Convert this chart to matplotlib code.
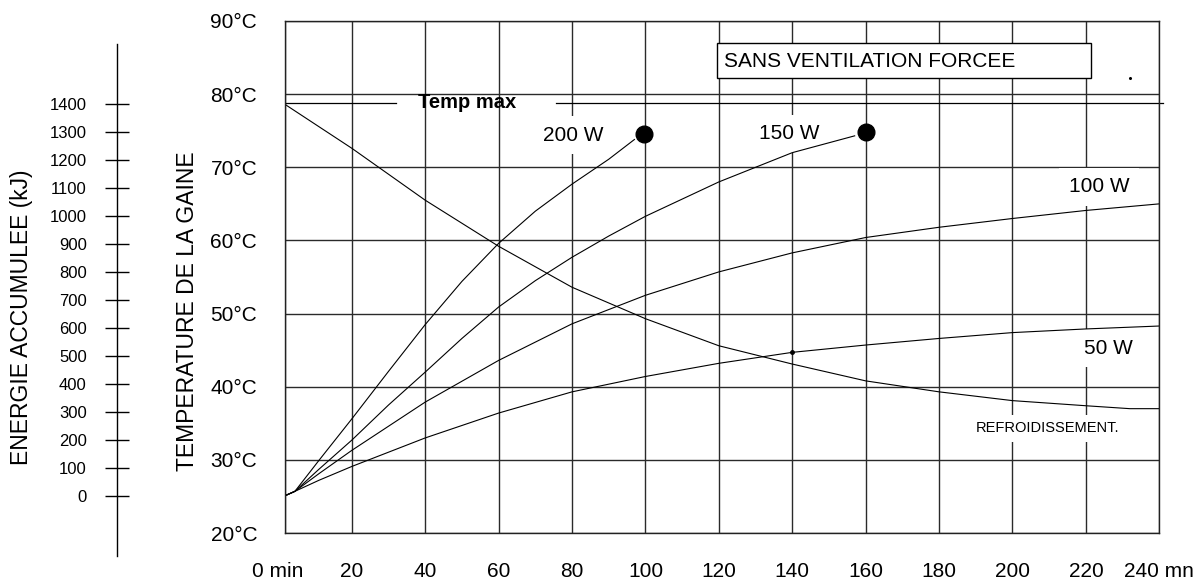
import numpy as np
import matplotlib.pyplot as plt
import matplotlib.transforms as mtransforms
from matplotlib.patches import Rectangle

plt.rcParams['font.family'] = ['Liberation Sans', 'DejaVu Sans']

# courbes de chauffe (temps en min, temperature en degC)
t200 = [1.8, 4.5, 11, 20, 30, 40, 50, 60, 70, 80, 90, 97]
T200 = [25.1, 25.7, 29.9, 35.6, 42.1, 48.5, 54.4, 59.6, 64.0, 67.7, 71.1, 73.8]
fin200 = (99.5, 74.5)

t150 = [1.8, 4.5, 11, 20, 30, 40, 50, 60, 70, 80, 90, 100, 120, 140, 157]
T150 = [25.1, 25.7, 28.7, 32.7, 37.5, 42.0, 46.6, 50.9, 54.5, 57.7, 60.6, 63.3, 68.0, 72.0, 74.3]
fin150 = (160, 74.8)

t100 = [1.8, 4.5, 11, 20, 40, 60, 80, 100, 120, 140, 160, 180, 200, 220, 240]
T100 = [25.1, 25.7, 28.1, 31.3, 37.9, 43.6, 48.6, 52.5, 55.7, 58.3, 60.4, 61.8, 63.0, 64.1, 65.0]

t50 = [1.8, 4.5, 11, 20, 40, 60, 80, 100, 120, 140, 160, 180, 200, 220, 240]
T50 = [25.1, 25.7, 27.2, 29.1, 33.0, 36.4, 39.3, 41.4, 43.2, 44.7, 45.7, 46.6, 47.4, 47.9, 48.3]

# refroidissement
t_ref = [1.8, 20, 40, 60, 80, 100, 120, 140, 160, 180, 200, 220, 232, 240]
T_ref = [78.6, 72.6, 65.5, 59.2, 53.6, 49.3, 45.6, 43.1, 40.8, 39.3, 38.1, 37.4, 37.0, 37.0]

temp_max = 78.8

x_ticks = [1.8, 20, 40, 60, 80, 100, 120, 140, 160, 180, 200, 220, 240]
x_labels = ['0 min', '20', '40', '60', '80', '100', '120', '140', '160', '180', '200', '220', '240 mn']
y_ticks = [20, 30, 40, 50, 60, 70, 80, 90]
y_labels = ['%d°C' % v for v in y_ticks]
energie = [0, 100, 200, 300, 400, 500, 600, 700, 800, 900, 1000, 1100, 1200, 1300, 1400]

fig = plt.figure(figsize=(12, 5.8), dpi=100)
ax = fig.add_axes([0.2375, 0.081, 0.7286, 0.8828])
ax.set_xlim(1.8, 240)
ax.set_ylim(20, 90)

ax.set_xticks(x_ticks)
ax.set_xticklabels(x_labels, fontsize=15)
ax.set_yticks(y_ticks)
ax.set_yticklabels(y_labels, fontsize=15)
ax.tick_params(axis='x', length=0, pad=21)
ax.tick_params(axis='y', length=0, pad=20)
lab0 = ax.get_xticklabels()[0]
lab0.set_transform(lab0.get_transform() + mtransforms.ScaledTranslation(-0.07, 0, fig.dpi_scale_trans))
ax.grid(True, color='#2a2a2a', lw=1.0)
ax.set_axisbelow(True)
for s in ax.spines.values():
    s.set_color('#222222')
    s.set_linewidth(1.0)

ax.plot(t200, T200, color='black', lw=0.8)
ax.plot(t150, T150, color='black', lw=0.8)
ax.plot(t100, T100, color='black', lw=0.8)
ax.plot(t50, T50, color='black', lw=0.8)
ax.plot(t_ref, T_ref, color='black', lw=0.8)
ax.plot(*fin200, 'o', color='black', ms=12)
ax.plot(*fin150, 'o', color='black', ms=12)
ax.plot(140, 44.7, 'o', color='black', ms=2.5)

# ligne temp max, coupee par le texte
ax.plot([1.8, 32], [temp_max, temp_max], color='black', lw=0.9)
ax.plot([75.6, 241], [temp_max, temp_max], color='black', lw=0.9, clip_on=False)
ax.text(51.5, temp_max, 'Temp max', fontsize=14.5, fontweight='bold', ha='center', va='center')

# etiquettes des courbes (fond blanc sous les courbes, au-dessus de la grille)
wb = dict(facecolor='white', edgecolor='none', boxstyle='square,pad=0.45')
ax.text(80.2, 74.4, '200 W', fontsize=15, ha='center', va='center', bbox=wb, zorder=1.5)
ax.text(139.2, 74.6, '150 W', fontsize=15, ha='center', va='center', bbox=wb, zorder=1.5)
ax.text(223.6, 67.35, '100 W', fontsize=15, ha='center', va='center', bbox=wb, zorder=1.5)
ax.text(226.1, 45.25, '50 W', fontsize=15, ha='center', va='center', bbox=wb, zorder=1.5)
ax.text(209.4, 34.3, 'REFROIDISSEMENT.', fontsize=10.5, ha='center', va='center', bbox=wb, zorder=1.5)

ax.add_patch(Rectangle((119.4, 82.17), 102.1, 4.78, facecolor='white', edgecolor='black', lw=1.0, zorder=3))
ax.text(121.3, 84.5, 'SANS VENTILATION FORCEE', fontsize=15, ha='left', va='center', zorder=4)
ax.plot(231.9, 82.2, 'o', color='black', ms=1.2)

# axe energie a gauche
ax2 = fig.add_axes([0.09725, 0.0421, 0.0001, 0.8813])
ax2.set_ylim(-213, 1614.5)
ax2.set_xticks([])
ax2.set_yticks(energie)
ax2.set_yticklabels([str(v) for v in energie], fontsize=12)
ax2.tick_params(axis='y', direction='inout', length=17, width=1.0, pad=13)
for k in ['top', 'bottom', 'right']:
    ax2.spines[k].set_visible(False)
ax2.spines['left'].set_linewidth(1.0)

fig.text(22 / 1200, 1 - 317 / 580, 'ENERGIE ACCUMULEE (kJ)', rotation=90, fontsize=16.5,
         ha='center', va='center')
fig.text(187 / 1200, 1 - 311 / 580, 'TEMPERATURE DE LA GAINE', rotation=90, fontsize=16.5,
         ha='center', va='center')

fig.savefig('out.png', dpi=100)
